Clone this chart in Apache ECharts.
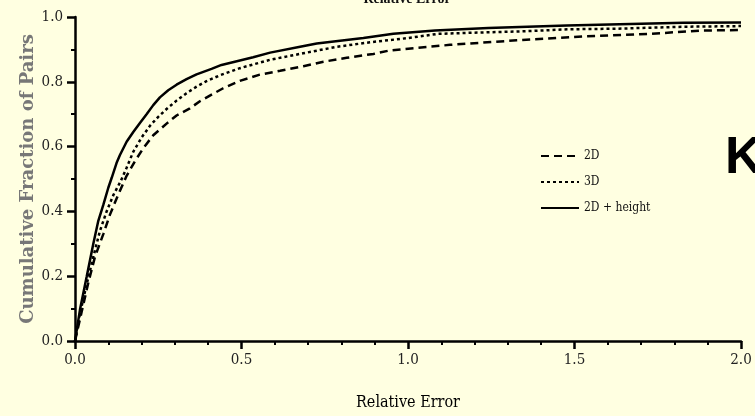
<!DOCTYPE html>
<html>
<head>
<meta charset="utf-8">
<script src="https://cdn.jsdelivr.net/npm/echarts@6/dist/echarts.min.js"></script>
<style>
html,body{margin:0;padding:0;background:#FFFFE1;}
#c{width:755px;height:416px;}
</style>
</head>
<body>
<div id="c"></div>
<script>
var seriesNames = ['2D', '3D', '2D + height'];
var xTicks = [0, 0.5, 1.0, 1.5, 2.0];
var yTicks = [0, 0.2, 0.4, 0.6, 0.8, 1.0];

var data2D = [[0,0],[0.02,0.09],[0.04,0.18],[0.06,0.26],[0.085,0.33],[0.105,0.39],[0.125,0.44],[0.155,0.51],[0.18,0.555],[0.205,0.595],[0.235,0.635],[0.275,0.671],[0.305,0.696],[0.345,0.718],[0.375,0.74],[0.415,0.763],[0.445,0.78],[0.495,0.803],[0.555,0.822],[0.616,0.834],[0.686,0.848],[0.746,0.862],[0.816,0.874],[0.896,0.886],[0.946,0.897],[1.126,0.914],[1.326,0.928],[1.527,0.94],[1.727,0.948],[1.877,0.958],[2.0,0.96]];

var data3D = [[0,0],[0.015,0.085],[0.035,0.175],[0.055,0.26],[0.075,0.34],[0.095,0.40],[0.115,0.45],[0.138,0.495],[0.155,0.535],[0.175,0.584],[0.2,0.628],[0.225,0.664],[0.25,0.692],[0.275,0.716],[0.305,0.742],[0.335,0.765],[0.365,0.785],[0.395,0.802],[0.435,0.82],[0.495,0.842],[0.586,0.868],[0.685,0.888],[0.786,0.908],[0.886,0.922],[1.0,0.935],[1.09,0.948],[1.21,0.952],[1.35,0.956],[1.48,0.962],[1.63,0.964],[1.83,0.97],[2.0,0.972]];

var data2Dh = [[0,0],[0.015,0.097],[0.035,0.198],[0.055,0.30],[0.07,0.371],[0.085,0.42],[0.10,0.473],[0.11,0.503],[0.125,0.55],[0.135,0.574],[0.155,0.615],[0.175,0.645],[0.195,0.673],[0.215,0.70],[0.235,0.728],[0.255,0.752],[0.28,0.774],[0.305,0.791],[0.335,0.808],[0.365,0.823],[0.41,0.84],[0.44,0.852],[0.535,0.876],[0.586,0.89],[0.676,0.908],[0.726,0.918],[0.866,0.935],[0.956,0.948],[1.081,0.958],[1.241,0.966],[1.477,0.974],[1.827,0.982],[2.0,0.983]];

var serifC = "'DejaVu Serif Condensed','Liberation Sans Narrow','Liberation Serif',serif";

var chart = echarts.init(document.getElementById('c'));
function lineSeries(name, data, type) {
  return {
    name: name, type: 'line', data: data, symbol: 'none', showSymbol: false, smooth: false,
    lineStyle: {color: '#000', width: 2.5, type: type},
    itemStyle: {color: '#000'},
    z: 3
  };
}
chart.setOption({
  backgroundColor: '#FFFFE1',
  animation: false,
  grid: {left: 75, right: 14, top: 17, bottom: 73},
  legend: {
    orient: 'vertical', left: 535, top: 145, itemGap: 14,
    itemWidth: 38, itemHeight: 14,
    data: seriesNames,
    itemStyle: {opacity: 0},
    textStyle: {fontFamily: serifC, fontSize: 12, color: '#111', padding: [0,0,0,0]}
  },
  xAxis: {
    type: 'value', min: 0, max: 2, interval: 0.5,
    name: 'Relative Error', nameLocation: 'middle', nameGap: 54,
    nameTextStyle: {fontFamily: serifC, fontSize: 16, color: '#000'},
    axisLine: {show: true, onZero: false, lineStyle: {color: '#000', width: 2.5}},
    axisTick: {show: true, inside: false, length: 8, lineStyle: {color: '#000', width: 2.5}},
    minorTick: {show: true, splitNumber: 5, length: 4, lineStyle: {color: '#000', width: 2}},
    splitLine: {show: false},
    axisLabel: {margin: 12, fontFamily: serifC, fontSize: 15, color: '#222',
      formatter: function (v) { return xTicks.indexOf(v) >= 0 ? v.toFixed(1) : ''; }}
  },
  yAxis: {
    type: 'value', min: 0, max: 1, interval: 0.2,
    name: 'Cumulative Fraction of Pairs', nameLocation: 'middle', nameGap: 38,
    nameMoveOverlap: false,
    nameTextStyle: {fontFamily: "'DejaVu Serif',serif", fontWeight: 'bold', fontSize: 18, color: '#777'},
    axisLine: {show: true, onZero: false, lineStyle: {color: '#000', width: 2.5}},
    axisTick: {show: true, inside: false, length: 8, lineStyle: {color: '#000', width: 2.5}},
    minorTick: {show: true, splitNumber: 2, length: 4, lineStyle: {color: '#000', width: 2}},
    splitLine: {show: false},
    axisLabel: {margin: 12, fontFamily: serifC, fontSize: 15, color: '#222',
      formatter: function (v) { return v.toFixed(1); }}
  },
  graphic: [
    {type: 'text', x: 407, y: 6, z: 10,
      style: {text: 'Relative Error', x: 0, y: 0, align: 'center', verticalAlign: 'bottom',
        font: "bold 14px 'Liberation Serif',serif", fill: '#111'}},
    {type: 'text', left: 725, top: 133, z: 10,
      style: {text: 'K', fontFamily: "'Liberation Sans',Arial,sans-serif", fontWeight: 'bold', fontSize: 52, fill: '#000'}}
  ],
  series: [
    lineSeries(seriesNames[0], data2D, [8, 5]),
    lineSeries(seriesNames[1], data3D, [3, 3]),
    lineSeries(seriesNames[2], data2Dh, 'solid')
  ]
});
</script>
</body>
</html>
